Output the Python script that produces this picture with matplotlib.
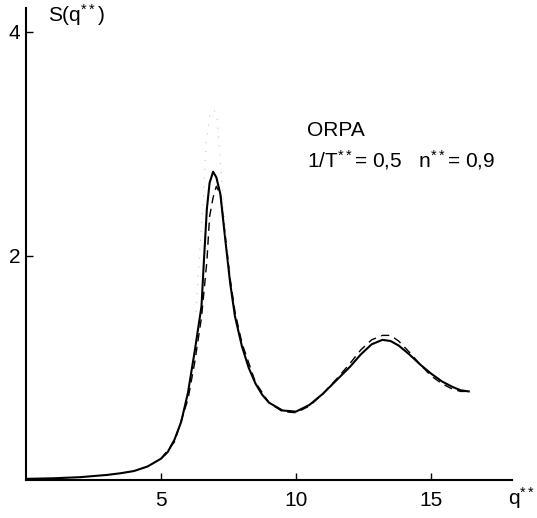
import matplotlib
matplotlib.use('Agg')
from matplotlib import pyplot as plt

plt.rcParams['font.family'] = ['Liberation Sans', 'DejaVu Sans']
plt.rcParams['mathtext.fontset'] = 'custom'
plt.rcParams['mathtext.rm'] = 'Liberation Sans'
plt.rcParams['mathtext.it'] = 'Liberation Sans'

# structure factor S(q*)
q_solid = [0.0, 1.0, 2.0, 3.0, 3.5, 4.0, 4.5, 5.0, 5.25, 5.5, 5.75, 6.0, 6.25, 6.5,
           6.6, 6.7, 6.8, 6.93, 7.05, 7.2, 7.37, 7.56, 7.74, 8.0, 8.25, 8.5, 8.75,
           9.0, 9.5, 10.0, 10.5, 11.0, 11.5, 12.0, 12.4, 12.8, 13.2, 13.5, 13.8,
           14.2, 14.6, 15.0, 15.4, 15.8, 16.1, 16.4]
s_solid = [0.01, 0.015, 0.025, 0.045, 0.06, 0.08, 0.12, 0.19, 0.25, 0.36, 0.52, 0.78,
           1.15, 1.55, 2.0, 2.42, 2.65, 2.75, 2.70, 2.55, 2.17, 1.76, 1.46, 1.19,
           1.0, 0.86, 0.76, 0.69, 0.62, 0.61, 0.67, 0.77, 0.89, 1.01, 1.12, 1.21,
           1.25, 1.24, 1.2, 1.12, 1.03, 0.95, 0.88, 0.83, 0.80, 0.79]

q_dash = [5.0, 5.5, 6.0, 6.25, 6.5, 6.7, 6.8, 6.93, 7.05, 7.2, 7.37, 7.56, 7.74, 8.0,
          8.5, 9.0, 9.5, 10.0, 10.5, 11.0, 11.5, 12.0, 12.4, 12.8, 13.2, 13.5, 13.8,
          14.2, 14.6, 15.0, 15.4, 15.8, 16.1, 16.4]
s_dash = [0.19, 0.34, 0.72, 1.05, 1.45, 1.95, 2.35, 2.52, 2.62, 2.55, 2.2, 1.8, 1.5,
          1.22, 0.87, 0.69, 0.61, 0.60, 0.66, 0.77, 0.90, 1.04, 1.16, 1.25, 1.29,
          1.29, 1.24, 1.14, 1.03, 0.93, 0.86, 0.81, 0.79, 0.79]

q_dot = [6.3, 6.45, 6.56, 6.67, 6.8, 6.95, 7.07, 7.15, 7.26, 7.4, 7.6]
s_dot = [1.5, 2.1, 2.47, 3.0, 3.25, 3.3, 3.26, 3.0, 2.63, 2.2, 1.8]

fig = plt.figure(figsize=(5.37, 5.18), dpi=100)
ax = fig.add_axes([0.0484, 0.0734, 0.905, 0.911])

ax.plot(q_solid, s_solid, color='black', lw=1.5)
ax.plot(q_dash, s_dash, color='black', lw=1.0, ls=(0, (6, 4)))
ax.plot(q_dot, s_dot, color='#c4c4c4', lw=0.8, ls=(0, (1, 7)))

ax.set_xlim(0, 18)
ax.set_ylim(0, 4.21)
for side in ['top', 'right']:
    ax.spines[side].set_visible(False)
for side in ['left', 'bottom']:
    ax.spines[side].set_linewidth(1.5)

ax.set_xticks([5, 10, 15])
ax.set_yticks([2, 4])
ax.tick_params(direction='in', length=5, width=1, labelsize=15, pad=8)
ax.tick_params(axis='y', pad=4)

fig.text(0.996, 0.038, 'q$^{**}$', fontsize=15, ha='right', va='center')
ax.text(0.045, 0.985, 'S(q$^{**}$)', transform=ax.transAxes, fontsize=15,
        ha='left', va='center')

ax.text(10.4, 3.12, 'ORPA', fontsize=15, ha='left', va='center')
ax.text(10.4, 2.85, '1/T$^{**}$= 0,5   n$^{**}$= 0,9', fontsize=15,
        ha='left', va='center')

fig.savefig('out.png', dpi=100)
